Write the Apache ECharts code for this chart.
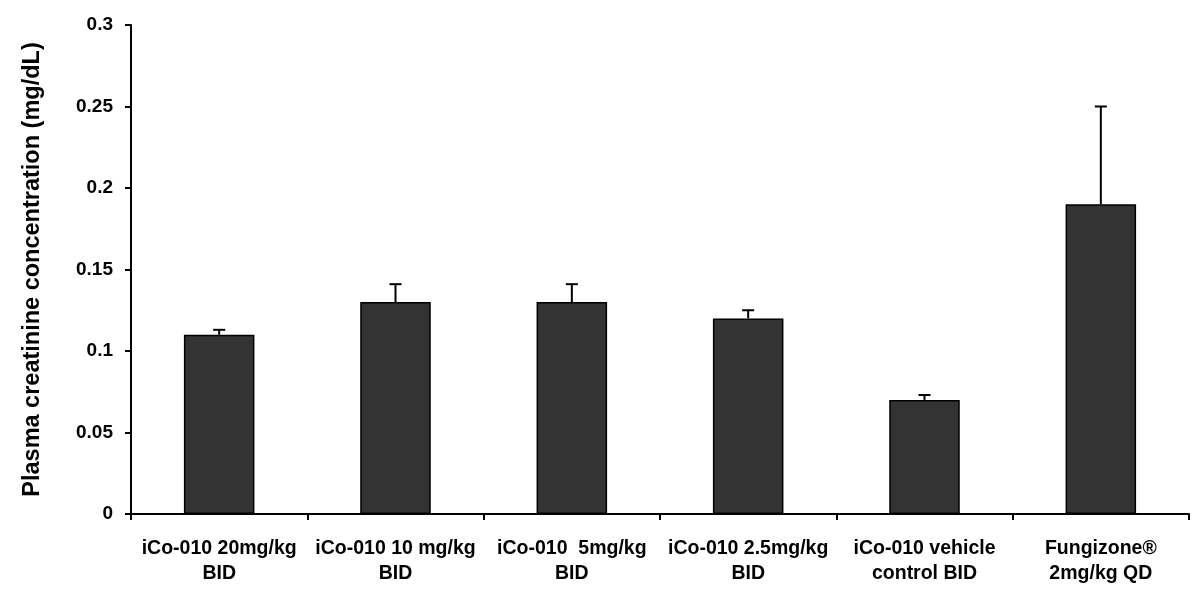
<!DOCTYPE html>
<html>
<head>
<meta charset="utf-8">
<script src="https://cdn.jsdelivr.net/npm/echarts@6/dist/echarts.min.js"></script>
<style>html,body{margin:0;padding:0;background:#fff}#c{width:1200px;height:602px}</style>
</head>
<body>
<div id="c"></div>
<script>
const categories = ["iCo-010 20mg/kg\nBID", "iCo-010 10 mg/kg\nBID", "iCo-010  5mg/kg\nBID", "iCo-010 2.5mg/kg\nBID", "iCo-010 vehicle\ncontrol BID", "Fungizone®\n2mg/kg QD"];
const means = [0.11, 0.13, 0.13, 0.12, 0.07, 0.19];
const errors = [0.003, 0.011, 0.011, 0.005, 0.003, 0.06];
const yTicks = { min: 0, max: 0.3, interval: 0.05 };

const chart = echarts.init(document.getElementById('c'), null, { renderer: 'canvas' });
const font = 'Liberation Sans, Arial, sans-serif';
chart.setOption({
  animation: false,
  grid: { left: 131, right: 11, top: 25, bottom: 88, containLabel: false },
  xAxis: {
    type: 'category',
    data: categories,
    axisLine: { lineStyle: { color: '#000', width: 2 } },
    axisTick: { show: true, length: 6, alignWithLabel: false, lineStyle: { color: '#000', width: 2 } },
    axisLabel: { color: '#000', fontFamily: font, fontWeight: 'bold', fontSize: 19.5, lineHeight: 25, margin: 22, interval: 0 }
  },
  yAxis: {
    type: 'value',
    min: yTicks.min, max: yTicks.max, interval: yTicks.interval,
    name: 'Plasma creatinine concentration (mg/dL)',
    nameLocation: 'middle',
    nameGap: 86,
    nameTextStyle: { color: '#000', fontFamily: font, fontWeight: 'bold', fontSize: 23.5 },
    axisLine: { show: true, lineStyle: { color: '#000', width: 2 } },
    axisTick: { show: true, length: 6, lineStyle: { color: '#000', width: 2 } },
    axisLabel: { color: '#000', fontFamily: font, fontWeight: 'bold', fontSize: 19, margin: 18 },
    splitLine: { show: false }
  },
  series: [
    {
      type: 'bar',
      data: means,
      barWidth: '40%',
      itemStyle: { color: '#333333', borderColor: '#000', borderWidth: 1.5 },
      z: 2
    },
    {
      type: 'custom',
      data: means.map((m, i) => [i, m, m + errors[i]]),
      renderItem: function (params, api) {
        const i = api.value(0);
        const base = api.coord([i, api.value(1)]);
        const top = api.coord([i, api.value(2)]);
        const hw = 6;
        return {
          type: 'group',
          children: [
            { type: 'line', shape: { x1: base[0], y1: base[1], x2: top[0], y2: top[1] }, style: { stroke: '#000', lineWidth: 2 } },
            { type: 'line', shape: { x1: top[0] - hw, y1: top[1], x2: top[0] + hw, y2: top[1] }, style: { stroke: '#000', lineWidth: 2 } }
          ]
        };
      },
      z: 3
    }
  ]
});
</script>
</body>
</html>
